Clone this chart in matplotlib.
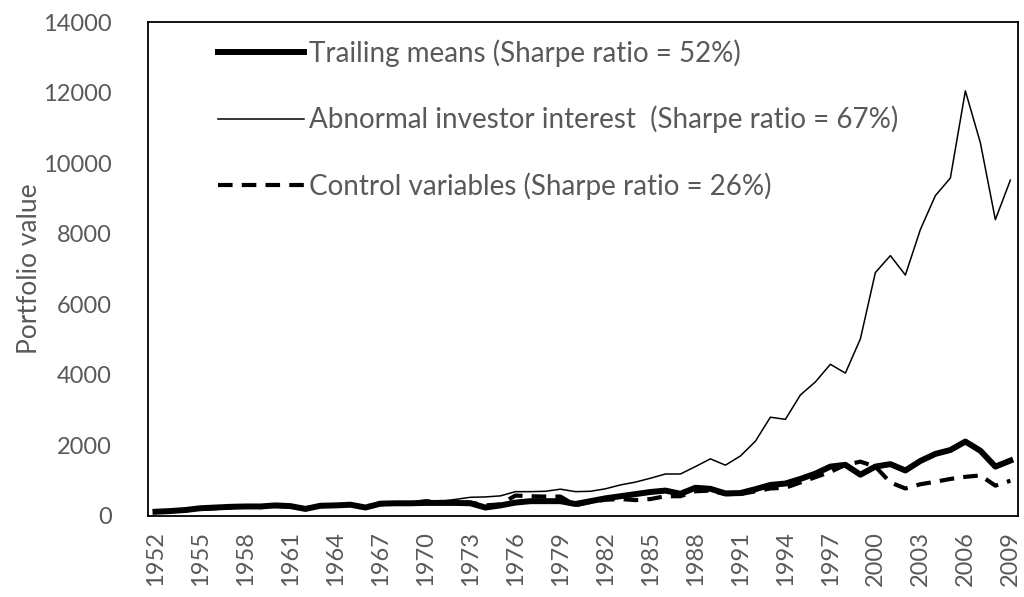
import numpy as np
import matplotlib.pyplot as plt

# 데이터
years = list(range(1952, 2010))

trailing = [120, 140, 170, 220, 240, 260, 270, 270, 300, 280,
            200, 290, 300, 320, 240, 350, 360, 360, 370, 370,
            370, 360, 240, 300, 380, 420, 420, 420, 340, 420,
            500, 560, 620, 680, 720, 630, 800, 770, 640, 650,
            760, 880, 920, 1050, 1200, 1400, 1450, 1170, 1400, 1470,
            1290, 1560, 1760, 1870, 2110, 1850, 1400, 1570]

abnormal = [100, 130, 160, 210, 230, 250, 260, 260, 290, 290,
            220, 280, 300, 320, 260, 340, 350, 360, 400, 420,
            470, 530, 540, 570, 690, 690, 700, 760, 690, 700,
            770, 880, 960, 1070, 1190, 1190, 1400, 1620, 1440, 1700,
            2120, 2800, 2740, 3430, 3800, 4300, 4050, 5020, 6900, 7380,
            6830, 8120, 9080, 9580, 12050, 10580, 8400, 9520]

control = [130, 140, 160, 200, 220, 240, 300, 250, 280, 270,
           220, 280, 290, 310, 270, 330, 350, 360, 420, 400,
           390, 380, 300, 330, 580, 560, 550, 550, 300, 400,
           460, 480, 450, 480, 560, 560, 700, 720, 620, 620,
           700, 780, 800, 950, 1100, 1250, 1450, 1540, 1400, 950,
           780, 900, 970, 1050, 1110, 1150, 860, 1000]

labels = ['Trailing means (Sharpe ratio = 52%)',
          'Abnormal investor interest  (Sharpe ratio = 67%)',
          'Control variables (Sharpe ratio = 26%)']

plt.rcParams['font.family'] = ['Lato', 'DejaVu Sans']
grey = '#595959'

fig = plt.figure(figsize=(10.24, 5.97), dpi=100)
ax = fig.add_axes([0.1445, 0.1357, 0.8495, 0.8273])

x = np.arange(len(years))
ax.plot(x, trailing, color='black', lw=4.3, solid_joinstyle='round', label=labels[0])
ax.plot(x, abnormal, color='black', lw=1.1, label=labels[1])
ax.plot(x, control, color='black', lw=3, dashes=(3.5, 2.2), label=labels[2])

ax.set_xlim(-0.5, len(years) - 0.5)
ax.set_ylim(0, 14000)
ax.set_yticks(range(0, 14001, 2000))
ax.set_xticks(x[::3])
ax.set_xticklabels([str(y) for y in years[::3]], rotation=90)
ax.tick_params(length=0, labelsize=17, labelcolor=grey)
ax.tick_params(axis='y', pad=26)
ax.tick_params(axis='x', pad=11)
ax.set_ylabel('Portfolio value', fontsize=19, color=grey, labelpad=1)

for s in ax.spines.values():
    s.set_color('black')
    s.set_linewidth(1.3)

ax.legend(loc='upper left', bbox_to_anchor=(0.068, 0.988), frameon=False,
          borderaxespad=0, fontsize=20, handlelength=3.1, labelspacing=1.4,
          handletextpad=0.18, labelcolor=grey)

fig.savefig('out.png', dpi=100)
